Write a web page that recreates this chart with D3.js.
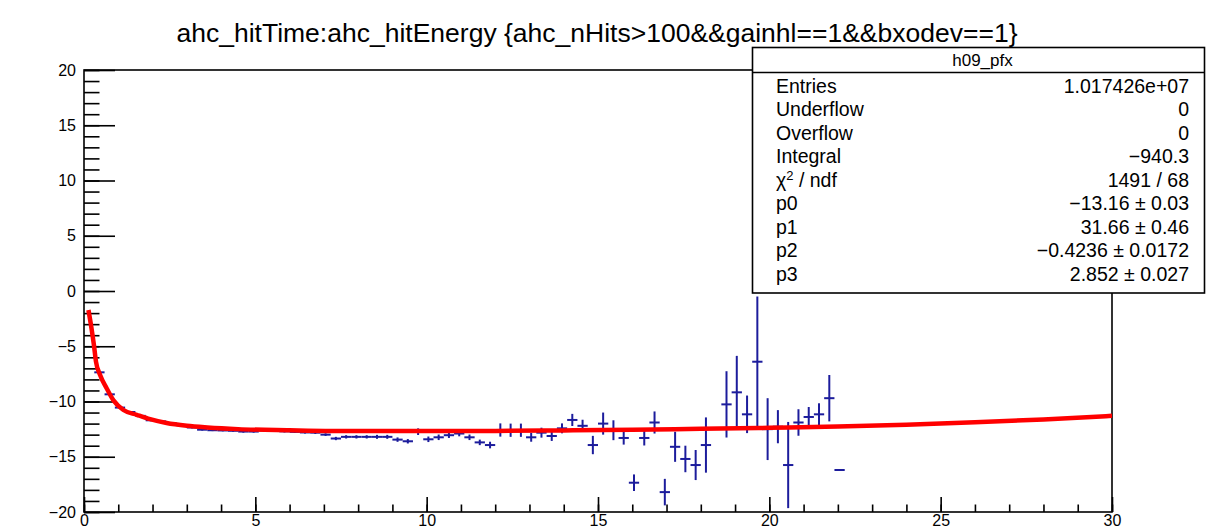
<!DOCTYPE html>
<html>
<head>
<meta charset="utf-8">
<script src="https://cdn.jsdelivr.net/npm/d3@7"></script>
<style>
  html, body { margin: 0; padding: 0; background: #fff; }
  svg { display: block; font-family: "Liberation Sans", Arial, Helvetica, sans-serif; }
</style>
</head>
<body>
<svg id="chart" width="1206" height="529"></svg>
<script>
// Profile of hit time versus hit energy (bin centres, mean time, error on the mean)
const binCentre = [0.45, 0.75, 1.05, 1.35, 1.65, 1.95, 2.25, 2.55, 2.85, 3.15,
  3.45, 3.75, 4.05, 4.35, 4.65, 4.95, 5.25, 5.55, 5.85, 6.15,
  6.45, 6.75, 7.05, 7.35, 7.65, 7.95, 8.25, 8.55, 8.85, 9.15,
  9.45, 9.75, 10.05, 10.35, 10.65, 10.95, 11.25, 11.55, 11.85, 12.15,
  12.45, 12.75, 13.05, 13.35, 13.65, 13.95, 14.25, 14.55, 14.85, 15.15,
  15.45, 15.75, 16.05, 16.35, 16.65, 16.95, 17.25, 17.55, 17.85, 18.15,
  18.75, 19.05, 19.35, 19.65, 19.95, 20.25, 20.55, 20.85, 21.15, 21.45,
  21.75, 22.05];
const meanTime = [-7.36, -9.35, -10.55, -10.95, -11.3, -11.7, -11.8, -11.95, -12.15, -12.35,
  -12.55, -12.6, -12.62, -12.65, -12.72, -12.72, -12.62, -12.62, -12.7, -12.75,
  -12.8, -12.82, -13.0, -13.35, -13.2, -13.2, -13.2, -13.2, -13.2, -13.45,
  -13.6, -12.73, -13.42, -13.24, -13.05, -12.9, -13.24, -13.7, -13.94, -12.58,
  -12.6, -12.6, -13.24, -12.82, -13.12, -12.43, -11.67, -12.2, -13.94, -12.0,
  -12.6, -13.3, -17.35, -13.3, -11.9, -18.2, -14.1, -15.2, -15.75, -13.94,
  -10.26, -9.17, -11.16, -6.4, -12.5, -12.28, -15.75, -11.9, -11.4, -11.16,
  -9.7, -16.2];
const meanErr = [0.08, 0.08, 0.08, 0.08, 0.08, 0.08, 0.08, 0.08, 0.08, 0.08,
  0.08, 0.08, 0.08, 0.08, 0.1, 0.1, 0.1, 0.1, 0.1, 0.1,
  0.1, 0.12, 0.12, 0.15, 0.15, 0.15, 0.15, 0.18, 0.18, 0.2,
  0.2, 0.3, 0.25, 0.25, 0.25, 0.25, 0.25, 0.25, 0.3, 0.6,
  0.6, 0.6, 0.4, 0.45, 0.45, 0.45, 0.55, 0.55, 0.83, 1.0,
  0.9, 0.6, 0.75, 0.68, 1.0, 1.2, 1.36, 1.2, 1.36, 2.5,
  3.0, 3.3, 1.7, 5.9, 2.8, 1.5, 3.9, 1.2, 0.9, 1.0,
  2.1, 0];
const binWidth = 0.3;

// Fitted curve sampled along the energy axis
const fitEnergy = [0.13, 0.22, 0.29, 0.35, 0.47, 0.66, 0.86, 1.15, 1.54, 1.93,
  2.41, 3.0, 3.6, 4.5, 6, 8, 10, 12, 14, 16, 18, 20, 22, 24, 26, 28, 30];
const fitTime = [-1.72, -3.4, -4.9, -6.4, -7.6, -8.8, -9.9, -10.77, -11.2, -11.6,
  -11.95, -12.2, -12.35, -12.5, -12.6, -12.68, -12.68, -12.66, -12.62, -12.55,
  -12.47, -12.38, -12.27, -12.1, -11.88, -11.62, -11.3];

// Axis ticks
const xMajorTicks = [0, 5, 10, 15, 20, 25, 30];
const yMajorTicks = [-20, -15, -10, -5, 0, 5, 10, 15, 20];

// Statistics box
const statsTitle = "h09_pfx";
const statsLabels = ["Entries", "Underflow", "Overflow", "Integral", "CHI", "p0", "p1", "p2", "p3"];
const statsValues = ["1.017426e+07", "0", "0", "\u2212940.3", "1491 / 68",
  "\u221213.16 \u00b1 0.03", "31.66 \u00b1 0.46", "\u22120.4236 \u00b1 0.0172", "2.852 \u00b1 0.027"];

const titleText = "ahc_hitTime:ahc_hitEnergy {ahc_nHits>100&&gainhl==1&&bxodev==1}";

const svg = d3.select("#chart");
const frame = { left: 84, right: 1112, top: 70, bottom: 512 };

const x = d3.scaleLinear().domain([0, 30]).range([frame.left, frame.right]);
const y = d3.scaleLinear().domain([-20, 20]).range([frame.bottom, frame.top]);

// Title
svg.append("text")
  .attr("x", 597).attr("y", 42)
  .attr("text-anchor", "middle")
  .attr("font-size", 25)
  .attr("textLength", 841)
  .attr("lengthAdjust", "spacingAndGlyphs")
  .attr("fill", "#000")
  .text(titleText);

// Clip for the plotting area
svg.append("defs").append("clipPath").attr("id", "plotClip")
  .append("rect")
  .attr("x", frame.left).attr("y", frame.top)
  .attr("width", frame.right - frame.left).attr("height", frame.bottom - frame.top);

// Axes with inward ROOT-style ticks
const tickW = 1.6;
const yMinor = svg.append("g").attr("transform", `translate(${frame.left},0)`)
  .call(d3.axisLeft(y).tickValues(d3.range(-20, 21, 1)).tickSize(-15.5).tickFormat(""));
const yMajor = svg.append("g").attr("transform", `translate(${frame.left},0)`)
  .call(d3.axisLeft(y).tickValues(yMajorTicks).tickSize(-31).tickPadding(8).tickFormat(d3.format("d")));
const xMinor = svg.append("g").attr("transform", `translate(0,${frame.bottom})`)
  .call(d3.axisBottom(x).tickValues(d3.range(0, 31, 1)).tickSize(-7.5).tickFormat(""));
const xMajor = svg.append("g").attr("transform", `translate(0,${frame.bottom})`)
  .call(d3.axisBottom(x).tickValues(xMajorTicks).tickSize(-15).tickPadding(3).tickFormat(d3.format("d")));

[yMinor, yMajor, xMinor, xMajor].forEach(g => {
  g.select(".domain").remove();
  g.selectAll(".tick line").attr("stroke", "#000").attr("stroke-width", tickW);
  g.selectAll(".tick text").attr("fill", "#000").attr("font-size", 16)
    .attr("font-family", "Liberation Sans, Arial, sans-serif");
});

// Frame
svg.append("rect")
  .attr("x", frame.left).attr("y", frame.top)
  .attr("width", frame.right - frame.left).attr("height", frame.bottom - frame.top)
  .attr("fill", "none").attr("stroke", "#000").attr("stroke-width", 1.6);

// Profile points with error bars
const pts = binCentre.map((c, i) => ({ c, v: meanTime[i], e: meanErr[i] }));
const plot = svg.append("g").attr("clip-path", "url(#plotClip)");
const blue = "#1c1c9c";
const pg = plot.append("g").attr("stroke", blue).attr("stroke-width", 2).attr("fill", "none");
pg.selectAll("line.h").data(pts).join("line").attr("class", "h")
  .attr("x1", d => x(d.c - binWidth / 2)).attr("x2", d => x(d.c + binWidth / 2))
  .attr("y1", d => y(d.v)).attr("y2", d => y(d.v));
pg.selectAll("line.v").data(pts.filter(d => d.e > 0)).join("line").attr("class", "v")
  .attr("x1", d => x(d.c)).attr("x2", d => x(d.c))
  .attr("y1", d => y(d.v - d.e)).attr("y2", d => y(d.v + d.e));

// Fit function
const fitPts = fitEnergy.map((e, i) => [e, fitTime[i]]);
plot.append("path")
  .datum(fitPts)
  .attr("d", d3.line().x(d => x(d[0])).y(d => y(d[1])).curve(d3.curveMonotoneX))
  .attr("fill", "none").attr("stroke", "#ff0000").attr("stroke-width", 4.5)
  .attr("stroke-linejoin", "round");

// Statistics box
const box = { x: 752.5, y: 47.5, w: 452, h: 245.5, head: 25 };
const sb = svg.append("g");
sb.append("rect").attr("x", box.x).attr("y", box.y).attr("width", box.w).attr("height", box.h)
  .attr("fill", "#fff").attr("stroke", "#000").attr("stroke-width", 1.6);
sb.append("line").attr("x1", box.x).attr("x2", box.x + box.w)
  .attr("y1", box.y + box.head).attr("y2", box.y + box.head)
  .attr("stroke", "#000").attr("stroke-width", 1.6);
sb.append("text").attr("x", box.x + box.w / 2 + 4).attr("y", 66)
  .attr("text-anchor", "middle").attr("font-size", 17).text(statsTitle);

const rowY = d3.scaleLinear().domain([0, statsLabels.length - 1]).range([92.5, 280.5]);
statsLabels.forEach((lab, i) => {
  const t = sb.append("text").attr("x", 776).attr("y", rowY(i)).attr("font-size", 19.5);
  if (lab === "CHI") {
    t.append("tspan").text("\u03c7");
    t.append("tspan").attr("font-size", 13).attr("dy", -7).text("2");
    t.append("tspan").attr("dy", 7).text(" / ndf");
  } else {
    t.text(lab);
  }
  sb.append("text").attr("x", 1189).attr("y", rowY(i)).attr("font-size", 19.5)
    .attr("text-anchor", "end").text(statsValues[i]);
});
</script>
</body>
</html>
